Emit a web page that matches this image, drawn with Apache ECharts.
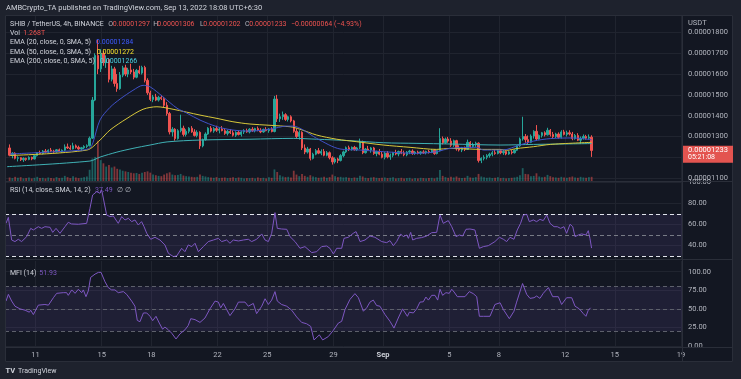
<!DOCTYPE html>
<html><head><meta charset="utf-8">
<script src="https://cdn.jsdelivr.net/npm/echarts@6/dist/echarts.min.js"></script>
<style>html,body{margin:0;padding:0;background:#131722;}#c{width:741px;height:379px;}</style>
</head><body><div id="c"></div><script>
// ---------- DATA ----------
const tickDays = [11, 15, 18, 22, 25, 29, 32, 36, 39, 43, 46, 50];
const tickLabels = ['11', '15', '18', '22', '25', '29', 'Sep', '5', '8', '12', '15', '19'];
const priceTicks = [1100, 1200, 1300, 1400, 1500, 1600, 1700, 1800]; // x 1e-8 USDT
const rsiTicks = [40, 60, 80, 100];
const mfiTicks = [0, 25, 50, 75, 100];
const firstCandleDay = 9.437;      // day number (1 = Aug 1) of first 4h candle
const candleStepDays = 1 / 6;      // 4h candles
// [open, high, low, close]  (x 1e-8 USDT)
const ohlc = [
[1245,1262,1205,1210],[1210,1225,1195,1220],[1220,1224,1190,1195],[1195,1205,1180,1198],[1198,1200,1182,1188],
[1188,1200,1178,1195],[1195,1198,1183,1190],[1190,1205,1186,1200],[1200,1203,1186,1192],[1192,1212,1190,1208],
[1208,1225,1204,1222],[1222,1232,1215,1218],[1218,1235,1214,1230],[1230,1240,1220,1225],[1225,1238,1220,1234],
[1234,1245,1226,1230],[1230,1236,1220,1226],[1226,1240,1222,1236],[1236,1242,1224,1228],[1228,1238,1222,1234],
[1234,1262,1230,1250],[1250,1266,1240,1245],[1245,1258,1236,1240],[1240,1270,1238,1255],[1255,1262,1242,1248],
[1248,1256,1236,1240],[1240,1250,1230,1246],[1246,1258,1240,1252],[1252,1262,1244,1256],
[1256,1300,1252,1292],[1292,1490,1288,1475],[1475,1700,1470,1690],[1690,1765,1600,1625],[1625,1720,1610,1700],
[1700,1712,1640,1655],[1655,1690,1630,1670],
[1670,1675,1560,1575],[1575,1640,1565,1625],[1625,1635,1540,1555],[1555,1600,1515,1530],[1530,1610,1525,1595],
[1595,1640,1585,1630],[1630,1645,1590,1600],[1600,1630,1585,1620],[1620,1650,1600,1610],[1610,1625,1575,1585],
[1585,1625,1580,1618],[1618,1640,1600,1605],[1605,1640,1598,1632],[1632,1640,1560,1570],[1570,1580,1500,1510],
[1510,1520,1470,1478],[1478,1500,1465,1490],[1490,1505,1470,1475],[1475,1495,1468,1488],[1488,1500,1475,1482],
[1482,1490,1440,1450],[1450,1465,1400,1410],[1410,1418,1310,1322],
[1322,1345,1300,1335],[1335,1340,1280,1290],[1290,1335,1285,1328],[1328,1405,1320,1340],[1340,1352,1300,1310],
[1310,1335,1300,1325],[1325,1345,1315,1340],[1340,1350,1318,1322],[1322,1335,1300,1305],[1305,1330,1296,1320],
[1320,1325,1240,1255],[1255,1290,1248,1285],[1285,1320,1280,1312],[1312,1345,1308,1340],[1340,1350,1320,1326],
[1326,1345,1318,1338],[1338,1352,1322,1330],[1330,1342,1315,1336],[1336,1350,1325,1328],[1328,1340,1308,1315],
[1315,1332,1305,1325],[1325,1336,1312,1318],[1318,1330,1300,1306],[1306,1325,1298,1320],[1320,1330,1305,1310],
[1310,1328,1300,1322],[1322,1335,1312,1328],[1328,1338,1318,1322],
[1322,1340,1315,1335],[1335,1345,1322,1328],[1328,1342,1320,1338],[1338,1348,1325,1330],[1330,1340,1316,1322],
[1322,1338,1318,1334],[1334,1345,1325,1328],[1328,1340,1318,1336],[1336,1345,1320,1324],
[1324,1495,1320,1480],[1480,1500,1370,1385],[1385,1410,1370,1395],[1395,1420,1380,1405],[1405,1412,1375,1382],
[1382,1400,1372,1395],[1395,1402,1368,1375],[1375,1380,1318,1325],[1325,1338,1290,1300],[1300,1330,1285,1320],
[1320,1325,1235,1245],[1245,1262,1215,1225],[1225,1250,1218,1240],[1240,1245,1185,1195],[1195,1222,1190,1215],
[1215,1240,1210,1232],[1232,1245,1215,1220],[1220,1238,1210,1228],[1228,1240,1205,1210],[1210,1230,1205,1222],
[1222,1228,1190,1198],[1198,1205,1165,1178],[1178,1200,1170,1192],[1192,1198,1172,1185],
[1185,1215,1180,1208],[1208,1232,1200,1226],[1226,1252,1220,1246],[1246,1256,1230,1238],[1238,1252,1232,1248],
[1248,1255,1232,1236],[1236,1250,1230,1245],[1245,1290,1240,1275],[1275,1280,1215,1222],[1222,1245,1218,1240],
[1240,1255,1230,1235],[1235,1250,1222,1245],[1245,1250,1212,1218],[1218,1232,1205,1228],[1228,1240,1210,1215],
[1215,1228,1195,1200],
[1200,1225,1190,1220],[1220,1230,1195,1202],[1202,1218,1188,1210],[1210,1226,1200,1222],[1222,1236,1210,1216],
[1216,1232,1205,1228],[1228,1240,1215,1220],[1220,1232,1205,1212],[1212,1230,1205,1225],[1225,1236,1215,1230],
[1230,1238,1212,1218],[1218,1230,1212,1225],[1225,1232,1214,1220],[1220,1230,1212,1226],[1226,1234,1216,1222],
[1222,1232,1214,1228],[1228,1236,1218,1224],[1224,1240,1220,1234],[1234,1238,1212,1218],[1218,1236,1214,1232],
[1232,1340,1228,1290],[1290,1300,1262,1270],[1270,1295,1265,1288],[1288,1298,1270,1278],[1278,1292,1250,1258],
[1258,1285,1250,1280],[1280,1284,1232,1240],[1240,1258,1228,1235],[1235,1250,1225,1244],[1244,1252,1230,1238],
[1238,1285,1235,1272],[1272,1278,1245,1252],[1252,1270,1246,1262],[1262,1275,1250,1268],[1268,1272,1175,1185],
[1185,1200,1172,1195],[1195,1210,1185,1200],[1200,1215,1190,1208],[1208,1222,1198,1215],[1215,1230,1205,1222],
[1222,1236,1212,1218],[1218,1240,1214,1232],[1232,1240,1215,1222],[1222,1236,1212,1228],[1228,1234,1210,1216],
[1216,1232,1212,1226],[1226,1236,1214,1222],[1222,1238,1218,1234],[1234,1258,1230,1255],[1255,1295,1250,1288],
[1288,1395,1280,1300],[1300,1312,1270,1285],[1285,1305,1262,1272],[1272,1310,1268,1302],[1302,1330,1290,1325],
[1325,1355,1280,1288],[1288,1310,1285,1305],[1305,1322,1295,1318],[1318,1325,1300,1308],[1308,1342,1305,1330],
[1330,1336,1300,1310],[1310,1322,1290,1300],[1300,1318,1292,1312],[1312,1320,1290,1296],[1296,1330,1290,1322],
[1322,1332,1305,1310],[1310,1328,1300,1318],[1318,1330,1305,1312],[1312,1322,1282,1290],[1290,1312,1285,1305],
[1305,1316,1278,1282],[1282,1300,1265,1292],[1292,1310,1285,1300],[1300,1308,1285,1292],[1292,1310,1288,1297],
[1297,1306,1202,1233]
];
// volume per candle (billions SHIB)
const volume = [
1100,900,1300,1000,1200,800,900,1100,800,1000,1300,900,1000,800,1100,900,800,1200,900,1000,1600,1200,900,1500,1100,900,1000,1200,1400,
3500,7000,7500,12500,6500,5500,4500,
5000,4200,4500,3800,3600,3200,3000,2800,2600,2400,2500,2200,2600,2800,3000,
2600,2000,1800,1600,1500,2000,2400,2700,2000,1800,1900,2200,1700,1500,1400,1300,1200,1300,
2000,1600,1400,1200,1100,1000,1200,900,1000,1100,900,1000,1200,900,1100,1000,800,900,
900,1000,800,1100,900,1000,800,1200,1000,3600,2800,1800,1400,1200,1300,1100,3200,2000,1500,
2200,1600,1300,1800,1400,1200,1000,1100,1300,1000,1200,2000,1500,1200,1300,1100,1200,1000,900,1100,1000,1600,1400,1000,900,1100,1200,1000,900,1000,
1100,900,1000,1200,800,900,1000,800,900,1000,700,900,800,1000,900,800,900,1000,800,1100,3400,1600,1200,1000,1300,1100,1400,1000,900,1000,1600,1100,1000,1200,2200,
1400,1200,1000,1100,900,1000,1200,900,1000,800,900,1000,1100,1300,1800,4000,2200,2100,1500,1600,2400,1400,1200,1300,1900,1500,1200,1100,1000,1300,1100,1000,1200,1400,1100,1000,1300,1100,1000,1200,1300
];
// [day, value]
const ema20 = [[9.46,1216],[11.27,1223],[13.87,1235],[14.29,1245],[14.47,1270],[14.90,1380],[15.50,1440],[16.11,1480],[16.89,1522],[17.50,1546],[17.92,1539],[18.70,1491],[19.55,1436],[20.15,1412],[20.94,1379],[21.97,1347],[22.93,1331],[23.96,1326],[25.17,1335],[26.18,1350],[26.58,1350],[27.18,1331],[27.99,1291],[29.40,1240],[30.61,1235],[32.02,1227],[34.03,1219],[35.24,1227],[36.05,1243],[37.66,1248],[38.06,1235],[39.07,1235],[39.49,1238],[40.06,1254],[41.09,1278],[42.11,1290],[43.50,1293],[44.60,1284]];
const ema50 = [[9.46,1209],[14.11,1235],[14.90,1283],[15.50,1331],[16.53,1387],[17.50,1431],[18.34,1443],[19.31,1431],[20.94,1403],[21.97,1387],[22.93,1371],[23.96,1360],[26.38,1347],[26.98,1335],[27.99,1307],[29.20,1287],[30.41,1275],[32.02,1259],[33.63,1248],[35.24,1238],[36.05,1243],[38.04,1238],[39.07,1238],[39.49,1234],[40.06,1242],[41.09,1251],[42.11,1262],[44.60,1272]];
const ema200 = [[9.28,1155],[14.29,1182],[14.90,1201],[15.92,1225],[16.89,1243],[17.92,1259],[18.95,1274],[20.94,1283],[23.96,1287],[26.58,1291],[27.99,1287],[30.00,1280],[32.02,1270],[34.05,1267],[36.05,1264],[39.07,1259],[41.09,1262],[44.60,1266]];
const rsi = [[9.22,61.1],[9.36,66.8],[9.56,45.2],[9.76,43.7],[9.96,45.9],[10.16,43.7],[10.47,48.4],[10.71,56.3],[10.87,54.8],[11.17,57.9],[11.37,56.3],[11.57,57.9],[11.88,57.3],[12.04,52.5],[12.24,56.3],[12.48,51.6],[12.78,57.9],[12.98,62.1],[13.18,60.5],[13.59,60.2],[14.09,61.1],[14.29,75.4],[14.45,88.1],[14.70,91.3],[14.90,89.7],[15.00,92.9],[15.30,69.0],[15.50,67.5],[15.70,68.1],[16.00,61.1],[16.21,67.5],[16.41,64.3],[16.61,65.9],[16.81,62.7],[17.01,64.3],[17.21,59.5],[17.41,62.7],[17.56,57.9],[17.72,51.6],[17.96,45.9],[18.22,47.8],[18.52,45.2],[18.82,40.5],[19.03,32.5],[19.33,29.4],[19.53,30.0],[19.83,37.3],[20.03,34.1],[20.23,40.5],[20.44,38.9],[20.64,42.1],[20.84,34.1],[21.14,38.9],[21.44,43.7],[21.75,45.2],[22.05,46.8],[22.25,43.7],[22.55,45.2],[22.75,42.1],[22.95,45.2],[23.26,44.3],[23.56,45.2],[23.86,45.9],[24.06,43.7],[24.36,45.9],[24.67,51.0],[24.87,45.2],[25.07,43.7],[25.27,51.6],[25.47,71.3],[25.61,56.3],[25.87,55.7],[26.18,55.4],[26.38,48.4],[26.68,43.7],[26.98,37.3],[27.28,38.9],[27.69,33.2],[27.99,34.1],[28.29,38.9],[28.59,39.5],[28.79,37.3],[29.00,31.9],[29.20,37.3],[29.50,37.3],[29.64,46.8],[29.90,47.8],[30.20,51.6],[30.37,53.2],[30.61,43.7],[30.91,45.2],[31.21,49.0],[31.51,47.8],[31.92,43.7],[32.22,42.7],[32.42,44.6],[32.62,39.8],[32.82,43.7],[33.06,51.0],[33.22,48.4],[33.43,50.0],[33.53,46.8],[33.67,52.5],[33.79,45.2],[34.03,46.8],[34.33,47.5],[34.64,49.0],[34.94,52.2],[35.24,52.5],[35.44,69.0],[35.64,61.1],[35.94,63.7],[36.15,57.9],[36.41,48.4],[36.61,50.0],[36.81,49.0],[37.01,55.4],[37.25,55.7],[37.55,54.8],[37.82,37.3],[38.06,38.9],[38.36,39.8],[38.76,43.7],[39.03,47.8],[39.27,45.9],[39.47,43.7],[39.67,47.8],[39.91,45.9],[40.11,54.8],[40.31,61.1],[40.48,69.0],[40.68,69.7],[40.84,62.7],[41.08,64.3],[41.28,62.7],[41.48,64.9],[41.68,63.7],[41.89,69.0],[42.09,61.1],[42.33,57.9],[42.53,57.9],[42.73,56.3],[42.93,57.9],[43.09,51.6],[43.30,60.2],[43.46,57.9],[43.60,48.4],[43.80,50.0],[44.00,51.0],[44.26,50.0],[44.40,54.1],[44.50,46.8],[44.60,37.5]];
const mfi = [[9.22,60.5],[9.36,69.5],[9.56,60.5],[9.76,53.6],[10.06,50.0],[10.37,48.2],[10.63,45.5],[10.71,48.2],[10.87,42.3],[11.17,55.0],[11.57,55.9],[11.78,55.0],[12.08,65.0],[12.28,70.9],[12.68,71.8],[12.88,71.8],[12.98,68.2],[13.19,75.5],[13.39,70.9],[13.59,76.4],[13.79,71.8],[13.89,75.5],[14.05,66.4],[14.19,74.1],[14.33,92.3],[14.60,96.8],[14.80,99.1],[14.96,99.1],[15.20,86.4],[15.40,78.6],[15.60,75.5],[15.80,75.5],[16.00,71.8],[16.31,73.2],[16.51,69.5],[16.81,60.5],[17.01,53.6],[17.15,34.5],[17.31,32.7],[17.52,44.5],[17.72,44.5],[17.92,40.0],[18.08,34.1],[18.28,40.0],[18.48,30.9],[18.68,22.7],[18.82,25.5],[19.03,21.8],[19.23,17.3],[19.49,9.5],[19.73,16.4],[20.03,21.8],[20.23,27.7],[20.38,36.8],[20.64,35.5],[20.94,31.8],[21.24,37.7],[21.54,50.0],[21.85,60.5],[22.05,59.1],[22.19,51.4],[22.35,57.3],[22.75,40.9],[23.05,50.0],[23.26,59.1],[23.66,59.1],[23.86,53.6],[24.16,57.3],[24.36,43.6],[24.67,53.6],[24.87,63.6],[25.07,55.9],[25.27,61.8],[25.47,73.2],[25.61,60.5],[25.87,55.9],[26.18,53.6],[26.48,48.2],[26.78,39.1],[27.08,31.8],[27.38,30.0],[27.63,26.4],[27.83,8.2],[28.15,15.0],[28.35,8.2],[28.69,12.7],[28.99,20.9],[29.30,30.9],[29.50,33.2],[29.70,49.1],[30.00,62.7],[30.30,70.5],[30.51,65.0],[30.81,46.8],[31.01,51.4],[31.21,59.1],[31.41,61.8],[31.61,54.5],[31.81,53.6],[32.12,42.3],[32.42,33.2],[32.66,24.1],[32.92,37.7],[33.18,50.0],[33.47,40.0],[33.59,45.5],[33.83,44.5],[34.03,50.0],[34.23,59.1],[34.43,59.5],[34.59,65.9],[34.74,61.8],[34.94,68.2],[35.14,68.2],[35.30,61.8],[35.44,76.4],[35.60,68.2],[35.80,71.8],[36.00,70.9],[36.15,76.4],[36.29,72.7],[36.49,66.4],[36.95,66.4],[37.21,73.2],[37.45,70.5],[37.66,66.4],[37.82,40.0],[38.06,40.0],[38.46,40.0],[38.76,55.9],[39.07,58.2],[39.27,49.1],[39.63,36.8],[39.91,46.8],[40.07,59.1],[40.43,84.1],[40.68,69.5],[40.88,64.1],[41.12,65.0],[41.28,67.3],[41.48,64.1],[41.68,70.9],[41.99,78.6],[42.25,66.4],[42.59,66.4],[42.79,55.9],[43.09,65.0],[43.40,65.0],[43.60,53.6],[43.86,50.0],[44.10,43.6],[44.26,40.0],[44.40,48.2],[44.54,51.4]];

// ---------- CHART ----------
const chart = echarts.init(document.getElementById('c'), null, {renderer: 'canvas', width: 741, height: 379});
const F = 'Roboto, "Liberation Sans", Arial, sans-serif';
const X0 = 9.157, X1 = 50.063;
const UP = '#26a69a', DN = '#ef5350';
const AX = '#b2b5be';
const GRID = '#20242f';
const candleDays = ohlc.map((_, i) => firstCandleDay + i * candleStepDays);
const candleData = ohlc.map((r, i) => [candleDays[i], r[0], r[3], r[2], r[1]]);
const volData = volume.map((v, i) => ({
  value: [candleDays[i], v],
  itemStyle: {color: ohlc[i][3] >= ohlc[i][0] ? 'rgba(38,166,154,0.5)' : 'rgba(239,83,80,0.5)'}
}));

function xAxis(gi, labels, split) {
  return {
    type: 'value', gridIndex: gi, min: X0, max: X1,
    axisLine: {show: false},
    axisTick: {show: false, customValues: tickDays},
    splitLine: {show: split, lineStyle: {color: GRID, width: 1}},
    axisLabel: labels ? {
      show: true, customValues: tickDays, margin: 4, color: AX, fontSize: 7.5, fontFamily: F,
      formatter: v => { const s = tickLabels[tickDays.indexOf(v)]; return s === 'Sep' ? '{b|Sep}' : s; },
      rich: {b: {fontWeight: 'bold', color: '#d1d4dc', fontSize: 7.5, fontFamily: F}}
    } : {show: false}
  };
}
function yAxis(gi, min, max, ticks, fmt, show) {
  return {
    type: 'value', gridIndex: gi, position: 'right', min, max,
    axisLine: {show: false},
    axisTick: {show: false, customValues: ticks || undefined},
    splitLine: {show: !!show, lineStyle: {color: GRID, width: 1}},
    axisLabel: show ? {show: true, customValues: ticks, formatter: fmt, color: AX, fontSize: 7.5, fontFamily: F, margin: 6} : {show: false}
  };
}
function txt(id, text, x, y, fill, size, weight, align) {
  return {type: 'text', id, z: 100, silent: true,
    style: {text, x, y, fill, font: (weight || 'normal') + ' ' + (size || 7) + 'px ' + F,
      align: align || 'left', verticalAlign: 'middle', textAlign: align || 'left', textVerticalAlign: 'middle'}};
}
function hline(id, x1, x2, y, color) {
  return {type: 'line', id, z: 50, silent: true, shape: {x1, y1: y, x2, y2: y}, style: {stroke: color || '#2a2e39', lineWidth: 1}};
}

const graphics = [
  {type: 'rect', id: 'topband', z: 40, silent: true, shape: {x: 0, y: 0, width: 741, height: 15}, style: {fill: '#1e222d'}},
  {type: 'rect', id: 'botband', z: 40, silent: true, shape: {x: 0, y: 362, width: 741, height: 17}, style: {fill: '#1e222d'}},
  {type: 'rect', id: 'leftband', z: 40, silent: true, shape: {x: 0, y: 0, width: 5, height: 379}, style: {fill: '#1e222d'}},
  {type: 'rect', id: 'rightband', z: 40, silent: true, shape: {x: 733, y: 0, width: 8, height: 379}, style: {fill: '#1e222d'}},
  {type: 'rect', id: 'frame', z: 41, silent: true, shape: {x: 5.5, y: 15.5, width: 727, height: 346}, style: {fill: 'none', stroke: '#2a2e39', lineWidth: 1}},
  hline('sep1', 5, 733, 181.5), hline('sep2', 5, 733, 259.5), hline('sep3', 5, 733, 347.5),
  {type: 'line', id: 'vsep', z: 50, silent: true, shape: {x1: 682.5, y1: 15, x2: 682.5, y2: 362}, style: {stroke: '#2a2e39', lineWidth: 1}},
  txt('title', 'AMBCrypto_TA published on TradingView.com, Sep 13, 2022 18:08 UTC+6:30', 6, 8, '#d1d4dc', 7.5),
  txt('l1a', 'SHIB / TetherUS, 4h, BINANCE', 10, 24.3, '#d1d4dc', 7),
  txt('l1o', 'O', 108.3, 24.3, AX, 7), txt('l1ov', '0.00001297', 112.7, 24.3, DN, 7),
  txt('l1h', 'H', 153.3, 24.3, AX, 7), txt('l1hv', '0.00001306', 157.3, 24.3, DN, 7),
  txt('l1l', 'L', 200, 24.3, AX, 7), txt('l1lv', '0.00001202', 203.3, 24.3, DN, 7),
  txt('l1c', 'C', 245, 24.3, AX, 7), txt('l1cv', '0.00001233', 249.3, 24.3, DN, 7),
  txt('l1ch', '\u22120.00000064 (\u22124.93%)', 291, 24.3, DN, 7),
  txt('l2', 'Vol', 10, 33.7, '#d1d4dc', 7), txt('l2v', '1.268T', 23.3, 33.7, DN, 7),
  txt('l3', 'EMA (20, close, 0, SMA, 5)', 10, 42.7, '#d1d4dc', 7), txt('l3v', '0.00001284', 96, 42.7, '#3d5afe', 7),
  txt('l4', 'EMA (50, close, 0, SMA, 5)', 10, 52.3, '#d1d4dc', 7), txt('l4v', '0.00001272', 96.7, 52.3, '#f5e02a', 7),
  txt('l5', 'EMA (200, close, 0, SMA, 5)', 10, 61.7, '#d1d4dc', 7), txt('l5v', '0.00001266', 100, 61.7, '#4dd0e1', 7),
  txt('rsiL', 'RSI (14, close, SMA, 14, 2)', 10, 190.3, '#d1d4dc', 7), txt('rsiV', '37.49', 95, 190.3, '#7e57c2', 7),
  txt('rsiN1', '\u2205', 116.7, 190.3, AX, 7), txt('rsiN2', '\u2205', 125, 190.3, AX, 7),
  txt('mfiL', 'MFI (14)', 10, 273.7, '#d1d4dc', 7), txt('mfiV', '51.93', 39.3, 273.7, '#7e57c2', 7),
  txt('usdt', 'USDT', 688, 23.3, AX, 7.5),
  txt('tvLogo', 'TV', 5.5, 371, '#d1d4dc', 7.5, 'bold'),
  txt('tvText', 'TradingView', 18, 371, '#d1d4dc', 7)
];

const option = {
  animation: false,
  backgroundColor: '#131722',
  grid: [
    {left: 5, top: 16, width: 677, height: 165},
    {left: 5, top: 136, width: 677, height: 45},
    {left: 5, top: 182, width: 677, height: 77},
    {left: 5, top: 261, width: 677, height: 86}
  ],
  xAxis: [xAxis(0, false, true), xAxis(1, false, false), xAxis(2, false, true), xAxis(3, true, true)],
  yAxis: [
    yAxis(0, 1086.1, 1879.3, priceTicks, v => (v / 1e8).toFixed(8), true),
    yAxis(1, 0, 14000, null, null, false),
    yAxis(2, 27.1, 100.5, rsiTicks, v => v.toFixed(2), true),
    yAxis(3, -1.3, 114.4, mfiTicks, v => v.toFixed(2), true)
  ],
  graphic: {elements: graphics},
  series: [
    {type: 'bar', name: 'Vol', xAxisIndex: 1, yAxisIndex: 1, data: volData, barWidth: 1.8, z: 2, silent: true},
    {type: 'candlestick', name: 'SHIB', xAxisIndex: 0, yAxisIndex: 0, data: candleData, barWidth: 1.8, z: 4, silent: true,
      itemStyle: {color: UP, color0: DN, borderColor: UP, borderColor0: DN, borderWidth: 1}},
    {type: 'line', name: 'EMA200', xAxisIndex: 0, yAxisIndex: 0, data: ema200, showSymbol: false, smooth: 0.3, z: 5, silent: true,
      lineStyle: {color: '#3fb1b5', width: 1}},
    {type: 'line', name: 'EMA50', xAxisIndex: 0, yAxisIndex: 0, data: ema50, showSymbol: false, smooth: 0.3, z: 5, silent: true,
      lineStyle: {color: '#d8c83a', width: 1}},
    {type: 'line', name: 'EMA20', xAxisIndex: 0, yAxisIndex: 0, data: ema20, showSymbol: false, smooth: 0.3, z: 6, silent: true,
      lineStyle: {color: '#3f51c8', width: 1}},
    {type: 'line', name: 'RSI', xAxisIndex: 2, yAxisIndex: 2, data: rsi, showSymbol: false, z: 5, silent: true,
      lineStyle: {color: '#7e57c2', width: 1},
      markArea: {silent: true, itemStyle: {color: 'rgba(126,87,194,0.12)'}, data: [[{yAxis: 30}, {yAxis: 70}]]},
      markLine: {silent: true, symbol: ['none', 'none'], label: {show: false}, animation: false,
        data: [
          {yAxis: 70, lineStyle: {color: '#e0e3eb', type: [4, 3], width: 1}},
          {yAxis: 50, lineStyle: {color: '#787b86', type: [4, 3], width: 1}},
          {yAxis: 30, lineStyle: {color: '#e0e3eb', type: [4, 3], width: 1}}
        ]}},
    {type: 'line', name: 'MFI', xAxisIndex: 3, yAxisIndex: 3, data: mfi, showSymbol: false, z: 5, silent: true,
      lineStyle: {color: '#7e57c2', width: 1},
      markArea: {silent: true, itemStyle: {color: 'rgba(126,87,194,0.12)'}, data: [[{yAxis: 20}, {yAxis: 80}]]},
      markLine: {silent: true, symbol: ['none', 'none'], label: {show: false}, animation: false,
        lineStyle: {color: '#5d606b', type: [4, 3], width: 1},
        data: [{yAxis: 80}, {yAxis: 50}, {yAxis: 20}]}}
  ]
};
chart.setOption(option);

// last-price tag on the price scale
const lastClose = ohlc[ohlc.length - 1][3];
const py = chart.convertToPixel({xAxisIndex: 0, yAxisIndex: 0}, [X0, lastClose])[1];
chart.setOption({graphic: {elements: [
  {type: 'rect', id: 'priceBox', z: 90, silent: true, shape: {x: 683, y: py - 4.7, width: 50, height: 17}, style: {fill: '#e35450'}},
  txt('priceBoxV', (lastClose / 1e8).toFixed(8), 688, py, '#ffffff', 7.5),
  txt('priceBoxT', '05:21:08', 688, py + 7.3, '#ffffff', 7)
]}});
</script></body></html>
